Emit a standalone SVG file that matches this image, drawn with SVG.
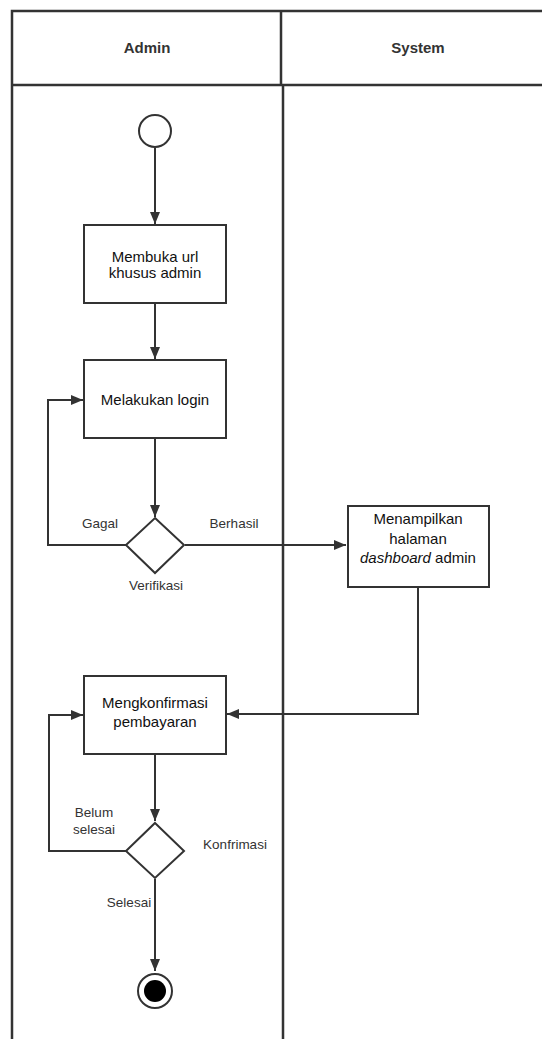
<svg xmlns="http://www.w3.org/2000/svg" width="542" height="1039" viewBox="0 0 542 1039">
<style>
.lane{fill:none;stroke:#333;stroke-width:2.5}
.node{fill:#fff;stroke:#333;stroke-width:2}
.edge{fill:none;stroke:#333;stroke-width:2}
.hdr{font-family:"Liberation Sans",Arial,sans-serif;font-size:15px;font-weight:bold;fill:#333;text-anchor:middle}
.txt{font-family:"Liberation Sans",Arial,sans-serif;font-size:15px;fill:#111;text-anchor:middle}
.lbl{font-family:"Liberation Sans",Arial,sans-serif;font-size:13.5px;fill:#333;text-anchor:middle}
</style>
<defs>
<marker id="arr" viewBox="0 0 12 10" refX="12" refY="5" markerWidth="12" markerHeight="10" markerUnits="userSpaceOnUse" orient="auto">
<path d="M0,0 L12,5 L0,10 z" fill="#333"/>
</marker>
</defs>
<rect width="542" height="1039" fill="#fff"/>
<g id="lanes">
<path class="lane" d="M12,1039 V11 H542 M12,85 H542 M281,11 V85 M283,85 V1039"/>
<text class="hdr" x="147" y="53">Admin</text>
<text class="hdr" x="418" y="53">System</text>
</g>
<g id="connectors">
<path class="edge" d="M155,148 V224" marker-end="url(#arr)"/>
<path class="edge" d="M155,303 V359" marker-end="url(#arr)"/>
<path class="edge" d="M155,438 V517" marker-end="url(#arr)"/>
<path class="edge" d="M126,545 H48 V400 H83" marker-end="url(#arr)"/>
<path class="edge" d="M185,545 H346" marker-end="url(#arr)"/>
<path class="edge" d="M418,587 V714 H227" marker-end="url(#arr)"/>
<path class="edge" d="M155,754 V821" marker-end="url(#arr)"/>
<path class="edge" d="M126,851 H49 V715 H83" marker-end="url(#arr)"/>
<path class="edge" d="M155,879 V971" marker-end="url(#arr)"/>
<text class="lbl" x="100" y="528">Gagal</text>
<text class="lbl" x="234" y="528">Berhasil</text>
<text class="lbl" x="156" y="590">Verifikasi</text>
<text class="lbl" x="94" y="817">Belum</text>
<text class="lbl" x="94" y="834">selesai</text>
<text class="lbl" x="129" y="907">Selesai</text>
</g>
<g id="start"><circle class="node" cx="155" cy="131" r="16"/></g>
<g id="membuka">
<rect class="node" x="84" y="225" width="142" height="78"/>
<text class="txt" x="155" y="262">Membuka url</text>
<text class="txt" x="155" y="278">khusus admin</text>
</g>
<g id="login">
<rect class="node" x="84" y="360" width="142" height="78"/>
<text class="txt" x="155" y="405">Melakukan login</text>
</g>
<g id="verifikasi"><path class="node" d="M155,518 L184,545 L155,573 L126,545 Z"/></g>
<g id="dashboard">
<rect class="node" x="348" y="506" width="141" height="81"/>
<text class="txt" x="418" y="524">Menampilkan</text>
<text class="txt" x="418" y="544">halaman</text>
<text class="txt" x="418" y="563"><tspan font-style="italic">dashboard</tspan> admin</text>
</g>
<g id="konfirmasi-bayar">
<rect class="node" x="84" y="676" width="142" height="78"/>
<text class="txt" x="155" y="708">Mengkonfirmasi</text>
<text class="txt" x="155" y="727">pembayaran</text>
</g>
<g id="konfrimasi">
<path class="node" d="M155,823 L184,851 L155,878 L126,851 Z"/>
<text class="lbl" x="235" y="849">Konfrimasi</text>
</g>
<g id="end">
<circle class="node" cx="155" cy="991" r="17" stroke-width="2.5"/>
<circle cx="155" cy="991" r="11" fill="#000"/>
</g>
</svg>
